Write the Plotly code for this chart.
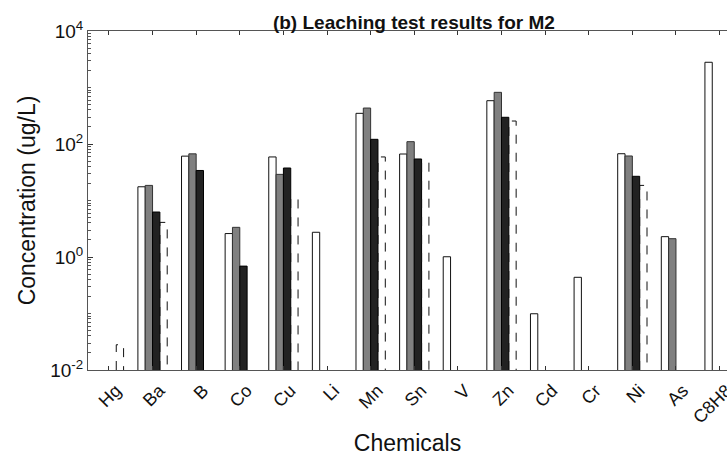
import plotly.graph_objects as go

chemicals = ["Hg", "Ba", "B", "Co", "Cu", "Li", "Mn", "Sn", "V", "Zn", "Cd", "Cr", "Ni", "As", "C8H8"]
series1 = [None, 17.5, 61, 2.6, 59, 2.74, 349, 66.5, 1.01, 584, 0.099, 0.437, 67.3, 2.29, 2795]
series2 = [None, 18.5, 67, 3.35, 29, None, 433, 110, None, 821, None, None, 61.4, 2.11, None]
series3 = [None, 6.25, 34, 0.69, 37.6, None, 121, 54.3, None, 297, None, None, 26.8, None, None]
series4 = [0.028, 4.1, None, None, 10.9, None, 59, 48, None, 255, None, None, 18.5, None, None]

bw = 0.168
offsets = [-2 * bw, -bw, 0, bw]
idx = list(range(len(chemicals)))

fig = go.Figure()
styles = [
    dict(color="white", line=dict(color="#111", width=1)),
    dict(color="#808080", line=dict(color="#333", width=1)),
    dict(color="#222222", line=dict(color="#000", width=1)),
]
for s, st, off in zip([series1, series2, series3], styles, offsets[:3]):
    fig.add_trace(go.Bar(x=idx, y=s, width=bw, offset=off, marker=st, showlegend=False))

# dashed outline bars for series 4
xs, ys = [], []
for i, v in zip(idx, series4):
    if v is None:
        continue
    x0 = i + offsets[3]
    x1 = x0 + bw
    xs += [x0, x0, x1, x1, None]
    ys += [1e-2, v, v, 1e-2, None]
fig.add_trace(go.Scatter(x=xs, y=ys, mode="lines", line=dict(color="#111", width=1, dash="dash"),
                         showlegend=False, hoverinfo="skip"))

font = "Liberation Sans, Arial, Helvetica, sans-serif"
fig.update_layout(
    width=727, height=456,
    margin=dict(l=88, r=0, t=31, b=86),
    plot_bgcolor="white", paper_bgcolor="white",
    font=dict(family=font, color="#111"),
    title=dict(text="<b>(b) Leaching test results for M2</b>", x=0.51, xref="paper",
               y=0.965, yref="container", xanchor="center", font=dict(size=19)),
    xaxis=dict(range=[-0.48, 14.17], tickmode="array", tickvals=idx, ticktext=chemicals,
               tickangle=-45, ticks="inside", ticklen=4, tickcolor="#333",
               showline=True, linecolor="#555", linewidth=1, mirror="ticks",
               showgrid=False, zeroline=False, tickfont=dict(size=18), ticklabelstandoff=2,
               ticklabelshift=7, ticklabeloverflow="allow", automargin=False,
               title=dict(text="Chemicals", font=dict(size=23), standoff=10)),
    yaxis=dict(type="log", range=[-2, 4], tickmode="array",
               tickvals=[1e-2, 1, 1e2, 1e4],
               ticktext=["10<sup>-2</sup>", "10<sup>0</sup>", "10<sup>2</sup>", "10<sup>4</sup>"],
               ticks="inside", ticklen=5, tickcolor="#333",
               minor=dict(ticks="inside", ticklen=3, dtick="D1", tickcolor="#555", showgrid=False),
               showline=True, linecolor="#555", linewidth=1, mirror=False, automargin=False,
               showgrid=False, zeroline=False, tickfont=dict(size=19),
               title=dict(text="Concentration (ug/L)", font=dict(size=23), standoff=8)),
)

fig.write_html("out.html")
